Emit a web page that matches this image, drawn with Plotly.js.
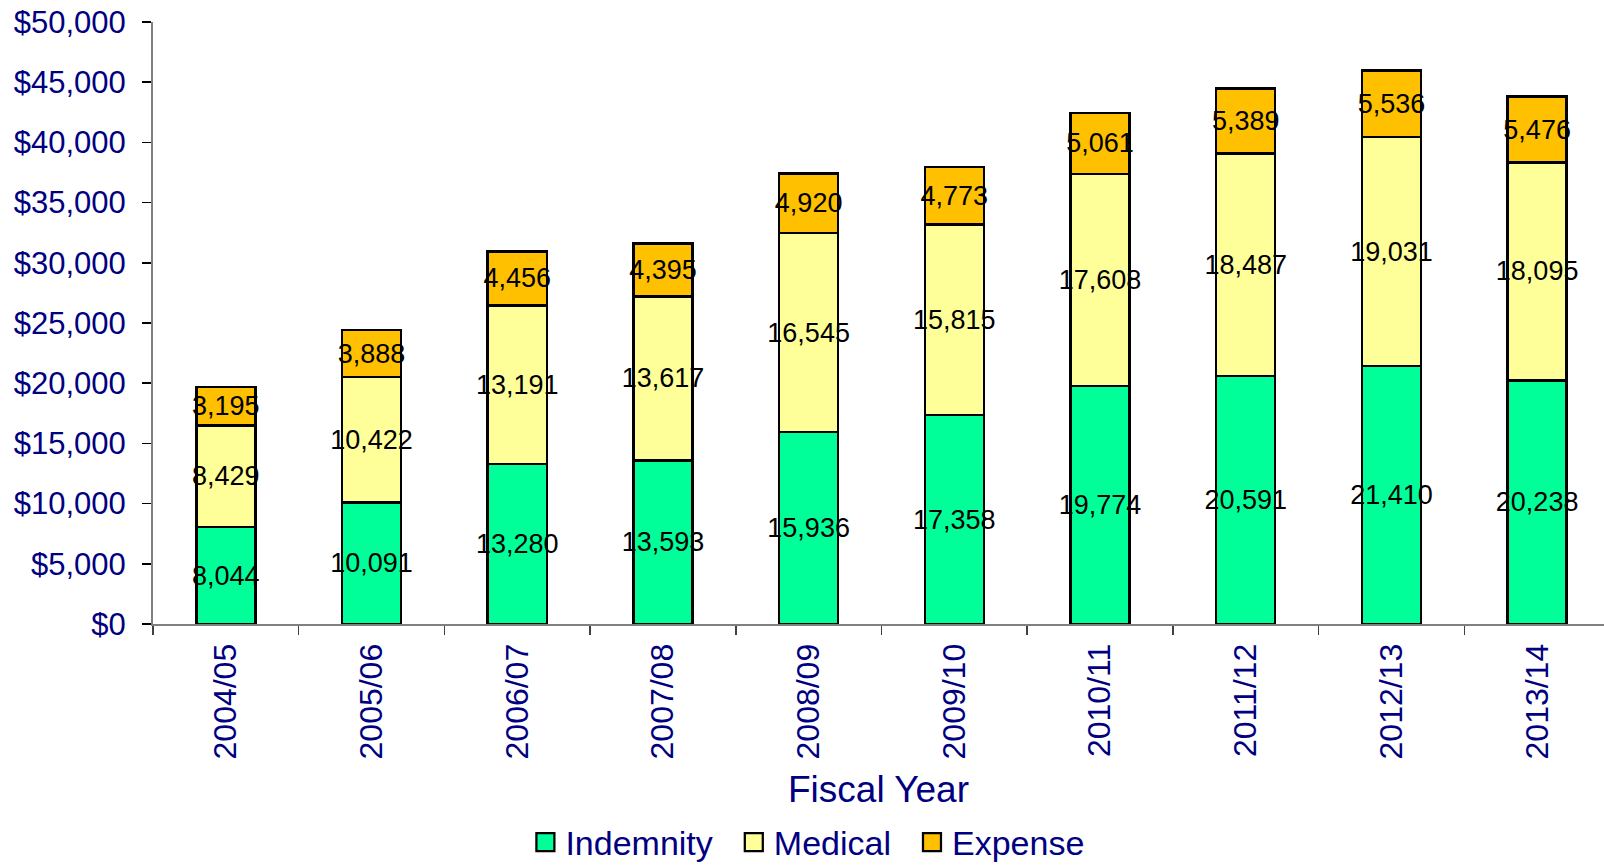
<!DOCTYPE html>
<html>
<head>
<meta charset="utf-8">
<script src="https://cdn.plot.ly/plotly-3.0.1.min.js"></script>
<style>html,body{margin:0;padding:0;background:#fff;}#chart{width:1604px;height:865px;}</style>
</head>
<body>
<div id="chart"></div>
<script>
var years = ["2004/05","2005/06","2006/07","2007/08","2008/09","2009/10","2010/11","2011/12","2012/13","2013/14"];
var indemnity = [8044, 10091, 13280, 13593, 15936, 17358, 19774, 20591, 21410, 20238];
var medical = [8429, 10422, 13191, 13617, 16545, 15815, 17608, 18487, 19031, 18095];
var expense = [3195, 3888, 4456, 4395, 4920, 4773, 5061, 5389, 5536, 5476];

var FONT = "Liberation Sans, Arial, sans-serif";
var NAVY = "#000080";

function series(name, vals, color) {
  return {
    type: "bar", name: name, x: years, y: vals,
    marker: {color: color, line: {color: "#000000", width: 2.5}},
    texttemplate: "%{y:,}", textposition: "inside", insidetextanchor: "middle",
    textangle: 0, constraintext: "none",
    textfont: {family: FONT, size: 27, color: "#000000"},
    hoverinfo: "x+y+name"
  };
}

var data = [
  series("Indemnity", indemnity, "#00FF99"),
  series("Medical", medical, "#FFFF99"),
  series("Expense", expense, "#FFC000")
];

var layout = {
  width: 1604, height: 865,
  margin: {l: 153, r: 0, t: 22, b: 241, autoexpand: false},
  paper_bgcolor: "#ffffff", plot_bgcolor: "#ffffff",
  barmode: "stack", bargap: 0.595,
  font: {family: FONT, color: NAVY},
  showlegend: true,
  legend: {orientation: "h", x: 0.451, xanchor: "center", y: -0.363, yanchor: "middle",
           font: {family: FONT, size: 34, color: NAVY}, traceorder: "normal", itemwidth: 30},
  xaxis: {type: "category", range: [-0.5, 9.459], showline: true, linecolor: "#808080", linewidth: 2,
          ticks: "outside", tickson: "boundaries", ticklen: 9, tickcolor: "#404040", tickwidth: 1.5,
          tickangle: -90, tickfont: {family: FONT, size: 32, color: NAVY}, showgrid: false,
          ticklabelstandoff: 5, automargin: false, fixedrange: true},
  yaxis: {range: [0, 50000], dtick: 5000, tickprefix: "$", tickformat: ",", showline: true,
          linecolor: "#808080", linewidth: 2, ticks: "outside", ticklen: 9, tickcolor: "#000000",
          tickwidth: 1.5, tickfont: {family: FONT, size: 31, color: NAVY}, showgrid: false,
          ticklabelstandoff: 10, automargin: false, zeroline: false, fixedrange: true},
  annotations: [{text: "Fiscal Year", xref: "paper", yref: "paper", x: 0.5, y: -0.275,
                 xanchor: "center", yanchor: "middle", showarrow: false,
                 font: {family: FONT, size: 37, color: NAVY}}]
};

Plotly.newPlot("chart", data, layout, {displayModeBar: false, staticPlot: true}).then(function (gd) {
  // let the legend draw outside its own box
  gd.querySelectorAll(".legend [clip-path], .legend[clip-path]").forEach(function (el) {
    el.removeAttribute("clip-path");
  });
  var pts = gd.querySelectorAll(".legend .legendpoints path");
  pts.forEach(function (p) {
    var t = p.getAttribute("transform") || "";
    p.setAttribute("transform", t + " scale(1.5)");
    p.style.strokeWidth = "1.5px";
  });
  // widen the gaps between legend entries a little
  var items = gd.querySelectorAll(".legend .traces");
  items.forEach(function (g, i) {
    var t = g.getAttribute("transform") || "";
    var m = /translate\(\s*([-\d.]+)[ ,]+([-\d.]+)\s*\)/.exec(t);
    if (m) {
      var nx = parseFloat(m[1]) + (i - 1) * 16;
      g.setAttribute("transform", "translate(" + nx + "," + m[2] + ")");
    }
  });
});
</script>
</body>
</html>
